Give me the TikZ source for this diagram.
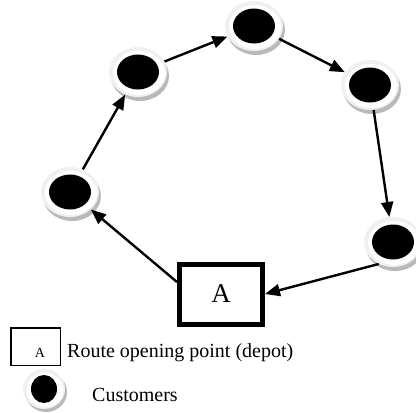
\documentclass[tikz,border=0pt]{standalone}
\usepackage{fontspec}
\setmainfont{Liberation Serif}
\usetikzlibrary{arrows.meta,shapes.geometric,shadows}
\tikzset{
  cust/.style={ellipse, minimum width=58pt, minimum height=50pt, inner sep=0pt,
    fill=gray!12,
    drop shadow={shadow xshift=2pt, shadow yshift=-4pt, fill=gray!55, opacity=1},
    path picture={
      \fill[white] ([shift={(1pt,-1pt)}]path picture bounding box.center) ellipse [x radius=26pt, y radius=22pt];
      \fill[black] (path picture bounding box.center) ellipse [x radius=21pt, y radius=17.5pt];
    }},
  smallcust/.style={ellipse, minimum width=42pt, minimum height=40pt, inner sep=0pt,
    fill=gray!12,
    drop shadow={shadow xshift=2pt, shadow yshift=-3pt, fill=gray!55, opacity=1},
    path picture={
      \fill[white] ([shift={(1pt,-1pt)}]path picture bounding box.center) ellipse [x radius=18.5pt, y radius=17pt];
      \fill[black] (path picture bounding box.center) ellipse [x radius=13pt, y radius=14pt];
    }},
  depotbox/.style={draw, line width=5pt, minimum width=83pt, minimum height=60pt, inner sep=0pt,
    font=\fontsize{27}{30}\selectfont},
  legbox/.style={draw, line width=1.5pt, minimum width=49.5pt, minimum height=37.5pt, inner sep=0pt},
  arr/.style={line width=2.4pt, -{Triangle[length=15pt,width=12pt]}},
  legtext/.style={anchor=base west, inner sep=0pt, font=\fontsize{20}{24}\selectfont},
}
\begin{document}
\begin{tikzpicture}[x=1pt,y=-1pt]
\useasboundingbox (0,0) rectangle (416,413);
\node[cust] (n1) at (70,192) {};
\node[cust] (n2) at (138,72) {};
\node[cust] (n3) at (254,26) {};
\node[cust] (n4) at (370,85) {};
\node[cust] (n5) at (393,242) {};
\node[depotbox] (depot) at (221,294) {A};
\draw[arr] ([yshift=12pt]depot.west) -- (n1);
\draw[arr] (n1) -- (n2);
\draw[arr] (n2) -- (n3);
\draw[arr] (n3) -- (n4);
\draw[arr] (n4) -- (n5);
\draw[arr] (n5.237) -- (depot.east);
% legend
\node[legbox] (lbox) at (35.5,346.5) {};
\node[anchor=base, inner sep=0pt, font=\fontsize{14}{16}\selectfont] (la) at (40,357) {A};
\node[legtext] (ltext) at (67,357) {Route opening point (depot)};
\node[smallcust] (lcust) at (44,389) {};
\node[legtext] (ctext) at (92,401) {Customers};
\end{tikzpicture}
\end{document}
